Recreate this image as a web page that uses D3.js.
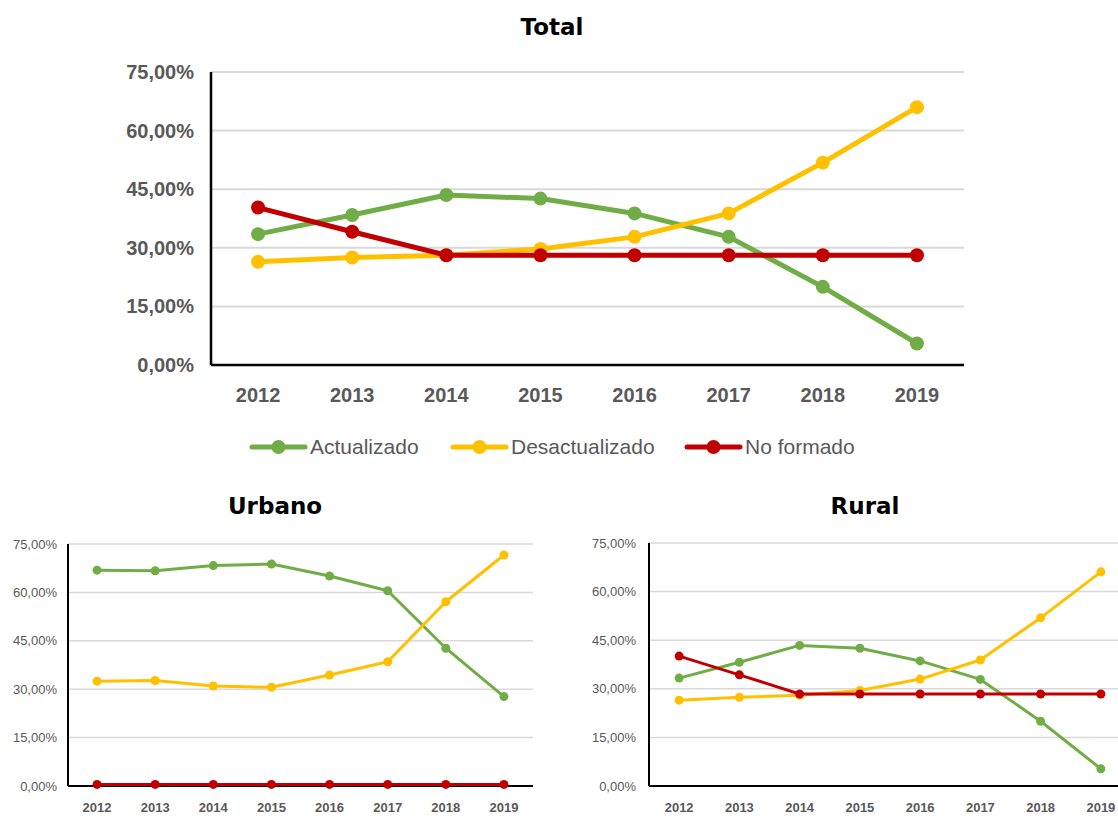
<!DOCTYPE html>
<html>
<head>
<meta charset="utf-8">
<script src="https://cdn.jsdelivr.net/npm/d3@7"></script>
<style>
body { margin: 0; background: #fff; }
text { font-family: "Liberation Sans Narrow", "Liberation Sans", sans-serif; }
.title { font-family: "DejaVu Sans", sans-serif; font-weight: bold; fill: #000; }
</style>
</head>
<body>
<script>
var years = [2012, 2013, 2014, 2015, 2016, 2017, 2018, 2019];
var yTicks = [0, 15, 30, 45, 60, 75];
var seriesNames = ["Actualizado", "Desactualizado", "No formado"];
var seriesColors = ["#70AD47", "#FFC000", "#C00000"];

var totalActualizado = [33.5, 38.4, 43.5, 42.6, 38.8, 32.8, 20.0, 5.5];
var totalDesactualizado = [26.4, 27.5, 28.1, 29.7, 32.8, 38.8, 51.8, 66.0];
var totalNoFormado = [40.3, 34.1, 28.1, 28.1, 28.1, 28.1, 28.1, 28.1];

var urbanoActualizado = [66.9, 66.7, 68.3, 68.8, 65.1, 60.5, 42.7, 27.7];
var urbanoDesactualizado = [32.5, 32.7, 31.0, 30.6, 34.4, 38.5, 57.1, 71.6];
var urbanoNoFormado = [0.5, 0.5, 0.5, 0.5, 0.5, 0.5, 0.5, 0.5];

var ruralActualizado = [33.3, 38.2, 43.4, 42.5, 38.6, 32.9, 20.0, 5.3];
var ruralDesactualizado = [26.5, 27.4, 28.0, 29.5, 33.0, 38.9, 51.9, 66.1];
var ruralNoFormado = [40.1, 34.3, 28.4, 28.4, 28.4, 28.4, 28.4, 28.4];

var width = 1118;
var height = 816;

var locale = d3.formatLocale({ decimal: ",", thousands: ".", grouping: [3], currency: ["", "€"] });
var pct = locale.format(".2f");

var svg = d3.select("body").append("svg")
    .attr("width", width)
    .attr("height", height);

function drawChart(opts) {
    var series = [opts.a, opts.d, opts.n];
    var g = svg.append("g");

    var xScale = d3.scaleBand().domain(years).range([opts.left, opts.right]);
    var yScale = d3.scaleLinear().domain([0, 75]).range([opts.bottom, opts.top]);

    // gridlines
    g.selectAll(".grid")
        .data(yTicks.slice(1))
        .enter().append("line")
        .attr("x1", opts.left)
        .attr("x2", opts.right)
        .attr("y1", d => yScale(d))
        .attr("y2", d => yScale(d))
        .attr("stroke", "#D9D9D9")
        .attr("stroke-width", opts.gridWidth);

    // y labels
    var yAxis = d3.axisLeft(yScale).tickValues(yTicks).tickSize(0).tickPadding(opts.yPad)
        .tickFormat(d => pct(d) + "%");
    var ya = g.append("g").attr("transform", "translate(" + opts.left + ",0)").call(yAxis);
    ya.select(".domain").remove();
    ya.selectAll("text")
        .attr("fill", "#595959")
        .style("font-size", opts.yFont + "px")
        .style("font-weight", opts.yWeight);

    // x labels
    var xAxis = d3.axisBottom(xScale).tickSize(0).tickPadding(opts.xPad);
    var xa = g.append("g").attr("transform", "translate(0," + opts.bottom + ")").call(xAxis);
    xa.select(".domain").remove();
    xa.selectAll("text")
        .attr("fill", "#595959")
        .style("font-size", opts.xFont + "px")
        .style("font-weight", "bold");

    // axis lines
    g.append("line")
        .attr("x1", opts.left).attr("x2", opts.left)
        .attr("y1", opts.top).attr("y2", opts.bottom)
        .attr("stroke", "#000").attr("stroke-width", opts.axisWidth);
    g.append("line")
        .attr("x1", opts.left).attr("x2", opts.right)
        .attr("y1", opts.bottom).attr("y2", opts.bottom)
        .attr("stroke", "#000").attr("stroke-width", opts.axisWidth);

    var line = d3.line()
        .x((d, i) => xScale(years[i]) + xScale.bandwidth() / 2)
        .y(d => yScale(d));

    series.forEach(function (values, s) {
        g.append("path")
            .datum(values)
            .attr("fill", "none")
            .attr("stroke", seriesColors[s])
            .attr("stroke-width", opts.lineWidth)
            .attr("stroke-linejoin", "round")
            .attr("d", line);
        g.selectAll(".dot" + s)
            .data(values)
            .enter().append("circle")
            .attr("cx", (d, i) => xScale(years[i]) + xScale.bandwidth() / 2)
            .attr("cy", d => yScale(d))
            .attr("r", opts.r)
            .attr("fill", seriesColors[s]);
    });

    svg.append("text")
        .attr("class", "title")
        .attr("x", opts.titleX)
        .attr("y", opts.titleY)
        .attr("text-anchor", "middle")
        .style("font-size", opts.titleFont + "px")
        .text(opts.title);
}

drawChart({
    title: "Total", titleX: 552, titleY: 35, titleFont: 23,
    a: totalActualizado, d: totalDesactualizado, n: totalNoFormado,
    left: 211, right: 964, top: 72, bottom: 365,
    gridWidth: 2, axisWidth: 2.5, lineWidth: 5, r: 7,
    yFont: 20, yWeight: "bold", yPad: 17, xFont: 20, xPad: 23
});

drawChart({
    title: "Urbano", titleX: 275, titleY: 514, titleFont: 23,
    a: urbanoActualizado, d: urbanoDesactualizado, n: urbanoNoFormado,
    left: 68, right: 533, top: 544, bottom: 786,
    gridWidth: 1.5, axisWidth: 2, lineWidth: 3, r: 4.5,
    yFont: 13, yWeight: "normal", yPad: 11, xFont: 13, xPad: 17
});

drawChart({
    title: "Rural", titleX: 865, titleY: 514, titleFont: 23,
    a: ruralActualizado, d: ruralDesactualizado, n: ruralNoFormado,
    left: 649, right: 1131, top: 543, bottom: 786,
    gridWidth: 1.5, axisWidth: 2, lineWidth: 3, r: 4.5,
    yFont: 13, yWeight: "normal", yPad: 13, xFont: 13, xPad: 17
});

// legend
var legendX = [252, 453, 687];
var legend = svg.append("g").attr("transform", "translate(0,447)");
seriesNames.forEach(function (name, i) {
    legend.append("line")
        .attr("x1", legendX[i]).attr("x2", legendX[i] + 53)
        .attr("y1", 0).attr("y2", 0)
        .attr("stroke", seriesColors[i])
        .attr("stroke-width", 5)
        .attr("stroke-linecap", "round");
    legend.append("circle")
        .attr("cx", legendX[i] + 26.5).attr("cy", 0)
        .attr("r", 7).attr("fill", seriesColors[i]);
    legend.append("text")
        .attr("x", legendX[i] + 58).attr("y", 0)
        .attr("dy", "0.35em")
        .attr("fill", "#595959")
        .style("font-size", "21px")
        .text(name);
});
</script>
</body>
</html>
